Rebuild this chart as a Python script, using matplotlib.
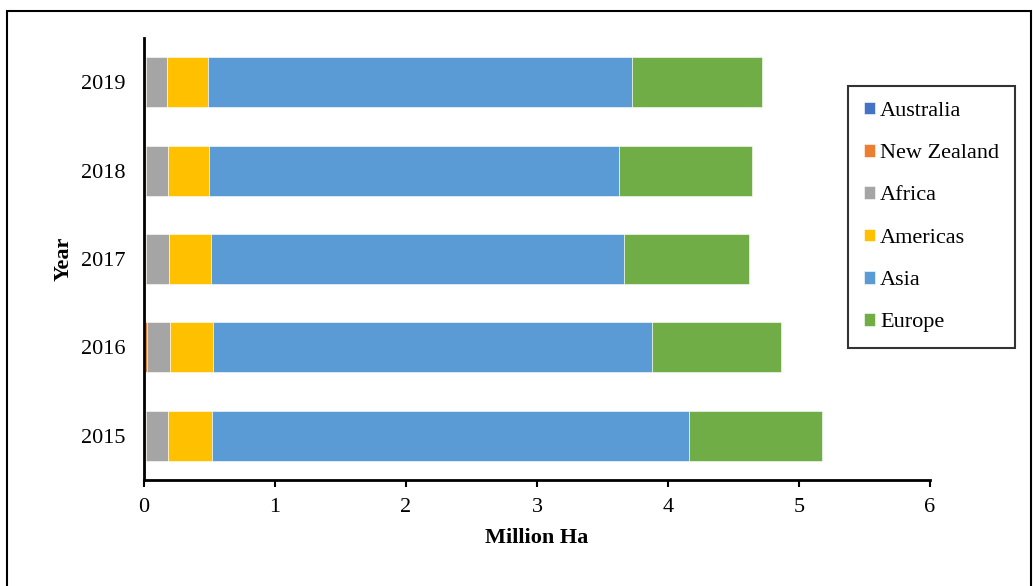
import matplotlib
matplotlib.use("Agg")
import matplotlib.pyplot as plt
from matplotlib.patches import Rectangle
import numpy as np

plt.rcParams['font.family'] = ['Liberation Serif', 'DejaVu Serif']

years = ["2015", "2016", "2017", "2018", "2019"]
series_names = ["Australia", "New Zealand", "Africa", "Americas", "Asia", "Europe"]
australia = [0.004, 0.004, 0.004, 0.004, 0.004]
new_zealand = [0.014, 0.016, 0.012, 0.010, 0.010]
africa = [0.165, 0.181, 0.177, 0.169, 0.164]
americas = [0.336, 0.326, 0.321, 0.311, 0.307]
asia = [3.641, 3.351, 3.150, 3.132, 3.240]
europe = [1.016, 0.985, 0.954, 1.015, 0.993]
colors = ["#4472C4", "#ED7D31", "#A5A5A5", "#FFC000", "#5B9BD5", "#70AD47"]
xticks = [0, 1, 2, 3, 4, 5, 6]

fig = plt.figure(figsize=(10.33, 5.86), dpi=100)
ax = fig.add_axes([144/1033, 1-480/586, (930-144)/1033, (480-38)/586])

data = [australia, new_zealand, africa, americas, asia, europe]
y = np.arange(len(years))
left = np.zeros(len(years))
for name, vals, c in zip(series_names, data, colors):
    ax.barh(y, vals, left=left, height=0.565, color=c, label=name,
            edgecolor='white', linewidth=0.4)
    left = left + np.array(vals)

ax.set_xlim(0, 6)
ax.set_ylim(-0.5, 4.5)
ax.set_xticks(xticks)
ax.set_xticklabels([str(t) for t in xticks], fontsize=16)
ax.set_yticks(y)
ax.set_yticklabels(years, fontsize=16)
ax.tick_params(axis='y', length=0, pad=13)
ax.tick_params(axis='x', length=5, width=1.5, direction='out', pad=8)
for s in ['top', 'right']:
    ax.spines[s].set_visible(False)
ax.spines['left'].set_linewidth(2)
ax.spines['bottom'].set_linewidth(2)
ax.set_xlabel("Million Ha", fontsize=16, fontweight='bold', labelpad=8)
ax.set_ylabel("Year", fontsize=16, fontweight='bold', labelpad=6)

leg = ax.legend(loc='upper left', bbox_to_anchor=((848-144)/786, (480-86)/442),
                fontsize=16, frameon=True, fancybox=False, borderpad=0.7,
                labelspacing=1.04, handlelength=0.5, handleheight=0.5,
                handletextpad=0.25, borderaxespad=0)
leg.get_frame().set_edgecolor('black')
leg.get_frame().set_linewidth(1.5)

fig.patches.append(Rectangle((7/1033, -0.1), (1031-7)/1033, 1.1 - 11/586,
                             transform=fig.transFigure, fill=False,
                             edgecolor='black', linewidth=1.5, figure=fig))

fig.savefig("out.png", dpi=100)
